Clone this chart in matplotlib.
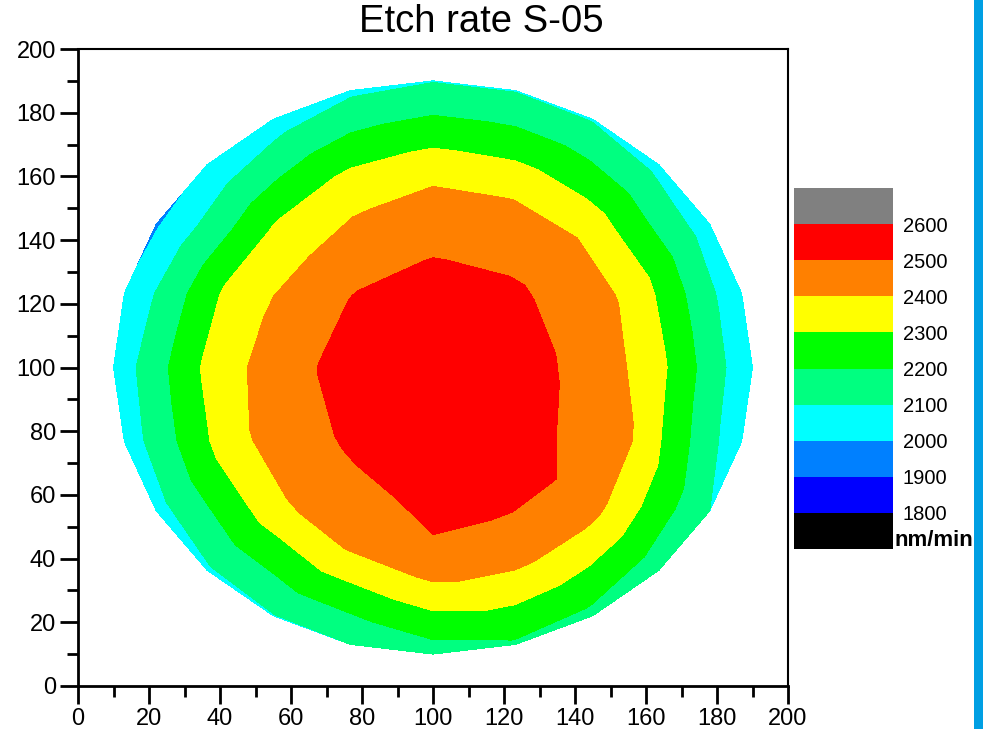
import numpy as np
import matplotlib
matplotlib.use('Agg')
import matplotlib.pyplot as plt
import matplotlib.tri as mtri
from matplotlib.colors import ListedColormap
from matplotlib.patches import Rectangle
from matplotlib.ticker import MultipleLocator

plt.rcParams['font.family'] = ['Liberation Sans', 'DejaVu Sans']

# 49-site wafer map: centre + rings of 8, 16 and 24 sites (mm)
wafer_center = (100, 100)
ring_radius = [30, 60, 90]

# etch rate per site (nm/min), rings listed counter-clockwise from +x
center_rate = 2555
ring1_rate = [2526, 2531, 2520, 2512, 2513, 2528, 2560, 2560]
ring2_rate = [2372, 2382, 2388, 2388, 2386, 2365, 2338, 2350,
              2361, 2380, 2392, 2425, 2480, 2475, 2467, 2408]
ring3_rate = [2010, 2015, 2040, 2068, 2092, 2095, 2095, 2080,
              2045, 2010, 1988, 2008, 2030, 2040, 2060, 2085,
              2095, 2100, 2150, 2185, 2170, 2135, 2100, 2020]

levels = [1800, 1900, 2000, 2100, 2200, 2300, 2400, 2500, 2600]
band_colors = ['#0000ff', '#0080ff', '#00ffff', '#00ff80',
               '#00ff00', '#ffff00', '#ff8000', '#ff0000']
under_color = '#000000'
over_color = '#808080'


def site_coords():
    cx, cy = wafer_center
    xs, ys, zs = [cx], [cy], [center_rate]
    for r, rates in zip(ring_radius, [ring1_rate, ring2_rate, ring3_rate]):
        n = len(rates)
        ang = np.deg2rad(np.arange(n) * 360.0 / n)
        xs.extend(cx + r * np.cos(ang))
        ys.extend(cy + r * np.sin(ang))
        zs.extend(rates)
    return np.array(xs), np.array(ys), np.array(zs, dtype=float)


x, y, z = site_coords()
tri = mtri.Triangulation(x, y)

cmap = ListedColormap(band_colors)
cmap.set_under(under_color)
cmap.set_over(over_color)

W, H = 983, 729
fig = plt.figure(figsize=(W / 100, H / 100), dpi=100)
ax = fig.add_axes([78 / W, (H - 686) / H, 710 / W, 637 / H])

cs = ax.tricontourf(tri, z, levels=levels, cmap=cmap, extend='both')

ax.set_xlim(0, 200)
ax.set_ylim(0, 200)
ax.xaxis.set_major_locator(MultipleLocator(20))
ax.yaxis.set_major_locator(MultipleLocator(20))
ax.xaxis.set_minor_locator(MultipleLocator(10))
ax.yaxis.set_minor_locator(MultipleLocator(10))
ax.tick_params(which='major', direction='out', length=13, width=2,
               labelsize=17, top=False, right=False, pad=3)
ax.tick_params(which='minor', direction='out', length=8, width=2,
               top=False, right=False)
for side in ['left', 'bottom']:
    ax.spines[side].set_linewidth(2)
for side in ['top', 'right']:
    ax.spines[side].set_linewidth(1.5)

fig.text(481 / W, 1 - 22 / H, 'Etch rate S-05', fontsize=27.5,
         ha='center', va='center')

# colour scale
cax = fig.add_axes([794 / W, (H - 549) / H, 99 / W, 361 / H])
cb = fig.colorbar(cs, cax=cax, extendrect=True, extendfrac=0.125,
                  ticks=levels)
cb.outline.set_visible(False)
cax.tick_params(length=0, labelsize=14.5, pad=7)
fig.text(894 / W, 1 - 541 / H, 'nm/min', fontsize=16, fontweight='bold',
         ha='left', va='center')

# blue strip at the right edge
fig.add_artist(Rectangle((974 / W, 0), 9 / W, 1, transform=fig.transFigure,
                         color='#009fe3', lw=0))

fig.savefig('out.png', dpi=100)
